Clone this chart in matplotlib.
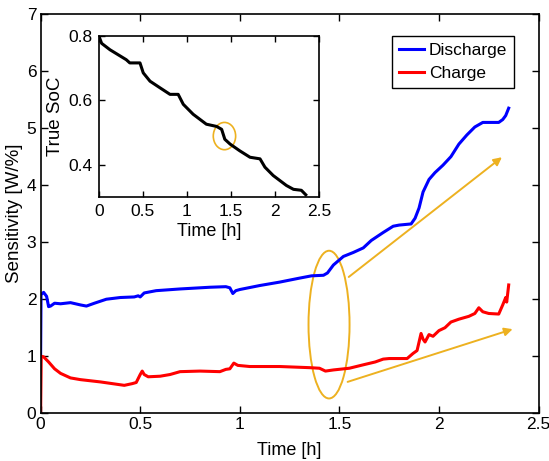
import numpy as np
import matplotlib.pyplot as plt
from matplotlib.patches import Ellipse

plt.rcParams['font.family'] = ['Liberation Sans', 'DejaVu Sans']
plt.rcParams['font.size'] = 12.5

# discharge sensitivity
t_dis = [0, 0.002, 0.015, 0.03, 0.04, 0.05, 0.07, 0.1, 0.15, 0.2, 0.23, 0.27, 0.33, 0.4,
         0.47, 0.49, 0.5, 0.52, 0.58, 0.7, 0.85, 0.93, 0.95, 0.965, 0.98, 1.0, 1.1, 1.2,
         1.3, 1.36, 1.42, 1.44, 1.47, 1.52, 1.57, 1.62, 1.66, 1.72, 1.77, 1.8, 1.86, 1.88,
         1.9, 1.92, 1.95, 1.98, 2.02, 2.06, 2.1, 2.14, 2.18, 2.22, 2.27, 2.3, 2.32, 2.335, 2.35]
s_dis = [1.0, 2.08, 2.12, 2.05, 1.87, 1.88, 1.93, 1.92, 1.94, 1.9, 1.88, 1.93, 2.0, 2.03,
         2.04, 2.06, 2.04, 2.11, 2.15, 2.18, 2.21, 2.22, 2.2, 2.1, 2.15, 2.17, 2.24, 2.3,
         2.37, 2.41, 2.42, 2.46, 2.6, 2.75, 2.82, 2.9, 3.03, 3.17, 3.28, 3.3, 3.32, 3.42,
         3.6, 3.88, 4.1, 4.22, 4.35, 4.5, 4.72, 4.88, 5.02, 5.1, 5.1, 5.1, 5.15, 5.22, 5.35]

# charge sensitivity
t_chg = [0, 0.003, 0.015, 0.04, 0.07, 0.1, 0.15, 0.2, 0.3, 0.38, 0.42, 0.46, 0.48, 0.5,
         0.51, 0.52, 0.54, 0.6, 0.65, 0.7, 0.8, 0.9, 0.93, 0.95, 0.97, 0.99, 1.05, 1.2,
         1.35, 1.4, 1.43, 1.47, 1.55, 1.62, 1.68, 1.72, 1.75, 1.84, 1.87, 1.89, 1.91, 1.92,
         1.93, 1.95, 1.97, 2.0, 2.03, 2.06, 2.1, 2.15, 2.18, 2.2, 2.22, 2.25, 2.3, 2.32,
         2.335, 2.34, 2.35]
s_chg = [0.0, 1.0, 0.99, 0.9, 0.78, 0.7, 0.62, 0.59, 0.55, 0.51, 0.49, 0.52, 0.54, 0.68,
         0.74, 0.68, 0.64, 0.65, 0.68, 0.73, 0.74, 0.73, 0.77, 0.78, 0.88, 0.84, 0.82, 0.82,
         0.8, 0.79, 0.74, 0.76, 0.79, 0.85, 0.9, 0.95, 0.96, 0.96, 1.05, 1.1, 1.4, 1.3,
         1.25, 1.38, 1.35, 1.45, 1.5, 1.6, 1.65, 1.7, 1.75, 1.85, 1.78, 1.75, 1.74, 1.9,
         2.03, 1.95, 2.25]

# true state of charge (inset)
t_soc = [0, 0.03, 0.125, 0.31, 0.35, 0.466, 0.503, 0.58, 0.69, 0.807, 0.9, 0.958, 1.07,
         1.22, 1.337, 1.394, 1.43, 1.49, 1.6, 1.716, 1.83, 1.886, 1.98, 2.13, 2.21, 2.3, 2.35]
soc = [0.8, 0.778, 0.758, 0.727, 0.717, 0.717, 0.686, 0.66, 0.64, 0.619, 0.619, 0.588, 0.557,
       0.526, 0.519, 0.51, 0.479, 0.464, 0.443, 0.423, 0.418, 0.392, 0.366, 0.335, 0.323,
       0.32, 0.306]

orange = '#EDB120'

fig = plt.figure(figsize=(5.49, 4.61), dpi=100)
ax = fig.add_axes([0.074, 0.1035, 0.907, 0.866])
ax.plot(t_dis, s_dis, color='b', lw=2.2, label='Discharge')
ax.plot(t_chg, s_chg, color='r', lw=2.2, label='Charge')
ax.set_xlim(0, 2.5)
ax.set_ylim(0, 7)
ax.set_xticks([0, 0.5, 1, 1.5, 2, 2.5])
ax.set_xticklabels(['0', '0.5', '1', '1.5', '2', '2.5'])
ax.set_yticks(range(8))
ax.tick_params(direction='in', top=True, right=True, length=5, width=1, pad=3)
for s in ax.spines.values():
    s.set_linewidth(1.2)
ax.set_xlabel('Time [h]', labelpad=7, fontsize=13)
ax.set_ylabel('Sensitivity [W/%]', labelpad=3, fontsize=13.5)
leg = ax.legend(loc='upper right', bbox_to_anchor=(0.951, 0.945), fancybox=False,
                edgecolor='k', framealpha=1, handlelength=1.4, handletextpad=0.3,
                borderpad=0.4, labelspacing=0.45, borderaxespad=0)
leg.get_frame().set_linewidth(1.0)

ax.add_patch(Ellipse((1.448, 1.555), 0.206, 2.59, fill=False, color=orange, lw=1.4))
ax.annotate('', xy=(2.327, 4.52), xytext=(1.536, 2.36),
            arrowprops=dict(arrowstyle='-|>', color=orange, lw=1.4, mutation_scale=12))
ax.annotate('', xy=(2.383, 1.49), xytext=(1.528, 0.536),
            arrowprops=dict(arrowstyle='-|>', color=orange, lw=1.4, mutation_scale=12))

ins = fig.add_axes([0.1803, 0.5733, 0.4007, 0.348])
ins.plot(t_soc, soc, color='k', lw=2.2)
ins.set_xlim(0, 2.5)
ins.set_ylim(0.3, 0.8)
ins.set_xticks([0, 0.5, 1, 1.5, 2, 2.5])
ins.set_xticklabels(['0', '0.5', '1', '1.5', '2', '2.5'])
ins.set_yticks([0.4, 0.6, 0.8])
ins.tick_params(direction='in', top=True, right=True, length=4, width=1, pad=5)
for s in ins.spines.values():
    s.set_linewidth(1.2)
ins.set_xlabel('Time [h]', labelpad=3, fontsize=13)
ins.set_ylabel('True SoC', labelpad=3, fontsize=13.5)
ins.add_patch(Ellipse((1.426, 0.489), 0.254, 0.085, fill=False, color=orange, lw=1.2))

fig.savefig('out.png', dpi=100)
